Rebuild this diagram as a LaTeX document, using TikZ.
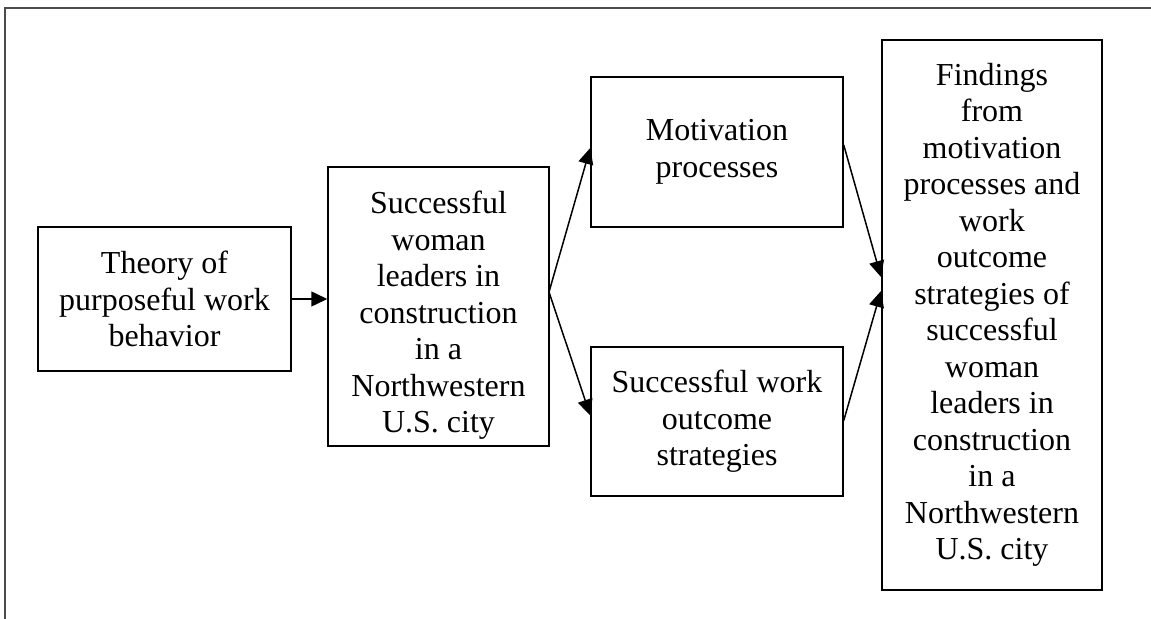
\documentclass[tikz,border=0pt]{standalone}
\usepackage{fontspec}
\setmainfont{Liberation Serif}
\usetikzlibrary{arrows.meta,calc}
\begin{document}
\begin{tikzpicture}[x=0.5pt,y=-0.5pt,
  box/.style={draw,line width=0.75pt,align=center,inner sep=0pt,
    font=\fontsize{16}{18.25}\selectfont},
  arr/.style={line width=0.75pt,-{Triangle[length=8pt,width=7.5pt]}},
  frame/.style={line width=1pt,black!70}]
\useasboundingbox (0,0) rectangle (1151,619);
\draw[frame] (5,619) -- (5,8) -- (1151,8);
\node[box,minimum width=126.5pt,minimum height=72pt] (b1) at (164.5,299)
  {Theory of\\purposeful work\\behavior};
\node[box,minimum width=110.5pt,minimum height=139.5pt] (b2) at (438.5,306.5)
  {\rule{0pt}{20pt}Successful\\woman\\leaders in\\construction\\in a\\Northwestern\\U.S. city};
\node[box,minimum width=126pt,minimum height=75pt] (mot) at (717,152)
  {Motivation\\processes};
\node[box,minimum width=126pt,minimum height=74.5pt] (suc) at (717,421.5)
  {Successful work\\outcome\\strategies};
\node[box,line width=1pt,minimum width=110pt,minimum height=275pt] (find) at (992,315)
  {Findings\\from\\motivation\\processes and\\work\\outcome\\strategies of\\successful\\woman\\leaders in\\construction\\in a\\Northwestern\\U.S. city};
\coordinate (fork) at (549,292);
\draw[arr] (b1.east) -- (b1.east -| b2.west);
\draw[arr] (fork) -- ($(mot.west)+(0,-4)$);
\draw[arr] (fork) -- ($(suc.west)+(0,-6)$);
\draw[arr] ($(mot.east)+(0,-7)$) -- ($(find.west)+(0,-38)$);
\draw[arr] ($(suc.east)+(0,-1)$) -- ($(find.west)+(0,-24)$);
\end{tikzpicture}
\end{document}
